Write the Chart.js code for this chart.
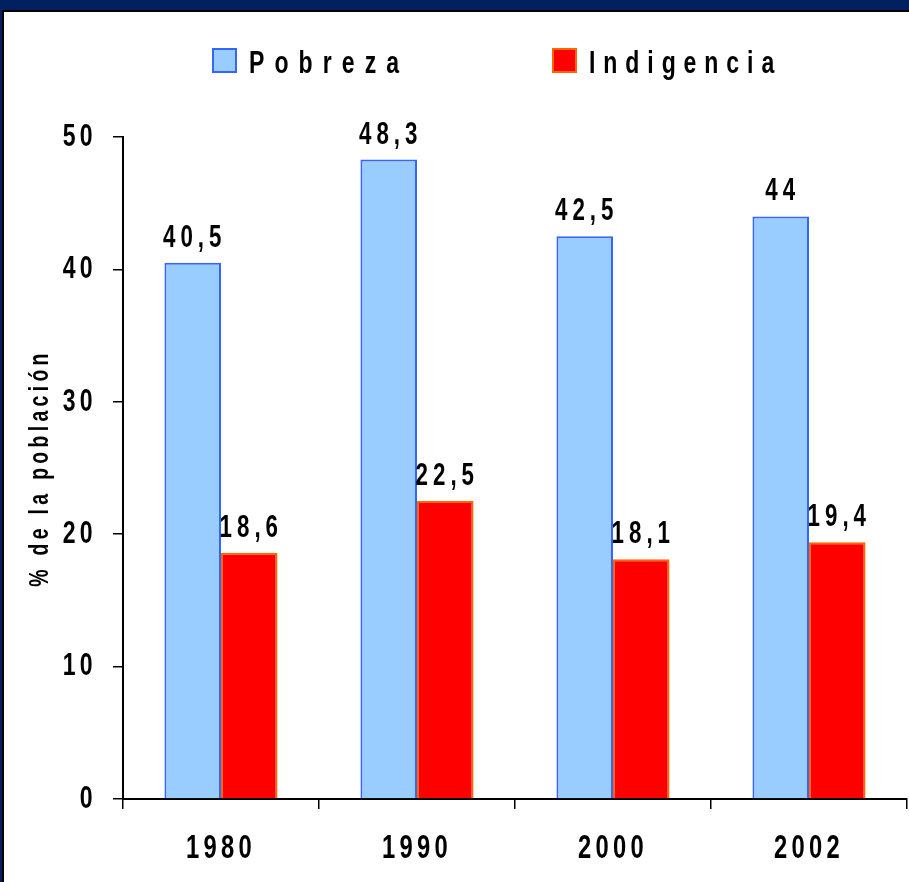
<!DOCTYPE html>
<html>
<head>
<meta charset="utf-8">
<script src="https://cdn.jsdelivr.net/npm/chart.js@4.4.1/dist/chart.umd.min.js"></script>
<style>
  body { margin: 0; background: #002060; width: 909px; height: 882px; overflow: hidden; }
  #frame { position: absolute; left: 2px; top: 10px; width: 907px; height: 872px; background: #fff;
           border-left: 2px solid #000; border-top: 2px solid #000; box-sizing: border-box; }
  #chart { position: absolute; left: 0; top: 0; }
</style>
</head>
<body>
<div id="frame"></div>
<canvas id="chart" width="909" height="882"></canvas>
<script>
const years = ['1980', '1990', '2000', '2002'];
const pobreza = [40.5, 48.3, 42.5, 44];
const indigencia = [18.6, 22.5, 18.1, 19.4];
const seriesNames = ['Pobreza', 'Indigencia'];
const yAxisTitle = '% de la población';

const FONT = '"Liberation Sans", Arial, sans-serif';

// the slide uses a squeezed bold face, so squeeze all text horizontally
const SQUEEZE = 0.72;
const canvas = document.getElementById('chart');
const ctx2d = canvas.getContext('2d');
const rawFill = ctx2d.fillText.bind(ctx2d);
const rawMeasure = ctx2d.measureText.bind(ctx2d);
ctx2d.fillText = function (text, x, y) {
  this.save();
  this.translate(x, y);
  this.scale(SQUEEZE, 1);
  rawFill(text, 0, 0);
  this.restore();
};
ctx2d.measureText = function (text) {
  const m = rawMeasure(text);
  return {
    width: m.width * SQUEEZE,
    actualBoundingBoxAscent: m.actualBoundingBoxAscent,
    actualBoundingBoxDescent: m.actualBoundingBoxDescent,
    actualBoundingBoxLeft: m.actualBoundingBoxLeft * SQUEEZE,
    actualBoundingBoxRight: m.actualBoundingBoxRight * SQUEEZE,
  };
};

// spaced out lettering like the original slide
const spacing = {
  id: 'spacing',
  beforeUpdate(chart) { chart.ctx.letterSpacing = '6px'; },
  beforeDraw(chart) { chart.ctx.letterSpacing = '6px'; },
};

// values on top of the bars, with comma decimals
const barValues = {
  id: 'barValues',
  afterDatasetsDraw(chart) {
    const ctx = chart.ctx;
    ctx.save();
    ctx.font = 'bold 31px ' + FONT;
    ctx.letterSpacing = '7px';
    ctx.fillStyle = '#000';
    ctx.textAlign = 'center';
    ctx.textBaseline = 'alphabetic';
    chart.data.datasets.forEach((ds, i) => {
      chart.getDatasetMeta(i).data.forEach((bar, j) => {
        const txt = String(ds.data[j]).replace('.', ',');
        ctx.fillText(txt, bar.x + 2, bar.y - 16);
      });
    });
    ctx.restore();
  }
};

// legend with wide gap between the two entries
const slideLegend = {
  id: 'slideLegend',
  afterDraw(chart) {
    const ctx = chart.ctx;
    const starts = [213, 553];
    const gaps = ['14px', '11px'];
    ctx.save();
    ctx.font = 'bold 32px ' + FONT;
    ctx.textBaseline = 'alphabetic';
    ctx.textAlign = 'left';
    chart.data.datasets.forEach((ds, i) => {
      const x = starts[i];
      ctx.fillStyle = ds.backgroundColor;
      ctx.fillRect(x, 49, 23, 23);
      ctx.lineWidth = 2;
      ctx.strokeStyle = ds.borderColor;
      ctx.strokeRect(x, 49, 23, 23);
      ctx.letterSpacing = gaps[i];
      ctx.fillStyle = '#000';
      ctx.fillText(ds.label, x + 36, 73);
    });
    ctx.restore();
  }
};

new Chart(canvas, {
  type: 'bar',
  data: {
    labels: years,
    datasets: [
      {
        label: seriesNames[0],
        data: pobreza,
        backgroundColor: '#99CCFF',
        borderColor: '#3366FF',
        borderWidth: 2,
      },
      {
        label: seriesNames[1],
        data: indigencia,
        backgroundColor: '#FF0000',
        borderColor: '#FF6600',
        borderWidth: 2,
      },
    ],
  },
  options: {
    responsive: false,
    animation: false,
    categoryPercentage: 0.577,
    barPercentage: 1,
    layout: { padding: { top: 137, right: 2, left: 0, bottom: 0 } },
    plugins: {
      legend: { display: false },
      tooltip: { enabled: false },
    },
    scales: {
      x: {
        grid: { drawOnChartArea: false, drawTicks: true, tickLength: 10, color: '#000', lineWidth: 1.5, offset: true },
        border: { color: '#000', width: 2 },
        ticks: { color: '#000', font: { family: FONT, size: 33, weight: 'bold' }, padding: 20 },
        afterFit(scale) { scale.height = 83; },
      },
      y: {
        min: 0,
        max: 50,
        grid: { drawOnChartArea: false, drawTicks: true, tickLength: 10, color: '#000', lineWidth: 1.5 },
        border: { color: '#000', width: 2 },
        ticks: { stepSize: 10, color: '#000', font: { family: FONT, size: 32, weight: 'bold' }, padding: 16 },
        title: {
          display: true,
          text: yAxisTitle,
          color: '#000',
          font: { family: FONT, size: 27, weight: 'bold' },
          padding: { top: 24, bottom: 0 },
        },
        afterFit(scale) { scale.width = 123; },
      },
    },
  },
  plugins: [spacing, barValues, slideLegend],
});
</script>
</body>
</html>
